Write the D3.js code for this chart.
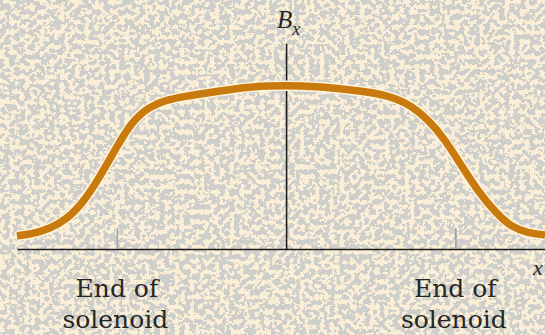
<!DOCTYPE html>
<html lang="en">
<head>
    <meta charset="UTF-8">
    <title>Field along the axis of a solenoid</title>
    <script src="https://d3js.org/d3.v7.min.js"></script>
    <style>
        body { margin: 0; background: #f5ead0; }
        .domain { stroke: #1c1c1c; stroke-width: 1.6px; }
        .tick line { stroke: #9ea4ac; stroke-width: 1.6px; }
        .label { font-family: "DejaVu Serif", serif; font-size: 25px; fill: #262626; text-anchor: middle; }
        .sym { font-family: "Liberation Serif", serif; font-style: italic; fill: #262626; }
    </style>
</head>
<body>
    <svg id="chart" width="545" height="335"></svg>

    <script>
        // positions along the axis (solenoid ends at -1 and +1) and field values (max = 1)
        const xPos = [-1.59, -1.50, -1.40, -1.30, -1.20, -1.10, -1.00, -0.91, -0.81, -0.71,
                      -0.61, -0.41, -0.22, 0.00, 0.18, 0.37, 0.55, 0.65, 0.74, 0.84,
                      0.94, 1.04, 1.14, 1.24, 1.33, 1.43, 1.53];
        const bVals = [0.080, 0.092, 0.123, 0.178, 0.282, 0.442, 0.626, 0.780, 0.870, 0.910,
                       0.932, 0.963, 0.994, 1.000, 0.994, 0.975, 0.951, 0.920, 0.877, 0.791,
                       0.669, 0.503, 0.344, 0.221, 0.135, 0.098, 0.086];
        const endTicks = [-1, 1];
        const endLabels = ["End of", "solenoid"];

        const W = 545, H = 335;
        const svg = d3.select("#chart");

        // speckled paper background
        const defs = svg.append("defs");
        const f = defs.append("filter").attr("id", "speck")
            .attr("x", 0).attr("y", 0).attr("width", "100%").attr("height", "100%");
        f.append("feTurbulence").attr("type", "fractalNoise")
            .attr("baseFrequency", 0.2).attr("numOctaves", 2).attr("seed", 11);
        f.append("feColorMatrix").attr("type", "matrix")
            .attr("values", "0 0 0 0 0.62  0 0 0 0 0.62  0 0 0 0 0.59  1.6 0 0 0 -0.3");
        f.append("feComponentTransfer").append("feFuncA")
            .attr("type", "discrete").attr("tableValues", "0 0 0 0 0 1 1 1 1 1");

        svg.append("rect").attr("width", W).attr("height", H).attr("fill", "#faefd6");
        svg.append("rect").attr("width", W).attr("height", H).attr("filter", "url(#speck)");

        const x = d3.scaleLinear().domain([-1.59, 1.53]).range([17, 545]);
        const y = d3.scaleLinear().domain([0, 1.26]).range([249, 43]);

        // horizontal axis with solenoid-end marks
        svg.append("g")
            .attr("transform", `translate(0,${y(0)})`)
            .call(d3.axisBottom(x).tickValues(endTicks).tickFormat("")
                .tickSizeInner(-21).tickSizeOuter(0));

        // vertical axis
        svg.append("g")
            .attr("transform", `translate(${x(0)},0)`)
            .call(d3.axisLeft(y).tickValues([]).tickSizeOuter(0));

        const line = d3.line()
            .x((d, i) => x(xPos[i]))
            .y(d => y(d))
            .curve(d3.curveBasis);

        // light halo under the curve
        svg.append("path").datum(bVals)
            .attr("d", line)
            .attr("fill", "none")
            .attr("stroke", "#fff4dc")
            .attr("stroke-width", 10.5);

        svg.append("path").datum(bVals)
            .attr("d", line)
            .attr("fill", "none")
            .attr("stroke", "#c87a0e")
            .attr("stroke-width", 7.5);

        // axis symbols
        const bx = svg.append("text").attr("class", "sym")
            .attr("x", x(0) - 9).attr("y", 28).attr("font-size", 25);
        bx.append("tspan").text("B");
        bx.append("tspan").attr("font-size", 18).attr("dy", 7).text("x");

        svg.append("text").attr("class", "sym")
            .attr("x", 533).attr("y", 275).attr("font-size", 22).text("x");

        // end labels
        endTicks.forEach(t => {
            endLabels.forEach((s, j) => {
                svg.append("text").attr("class", "label")
                    .attr("x", x(t) - j * 1.5)
                    .attr("y", 297 + j * 31)
                    .text(s);
            });
        });
    </script>
</body>
</html>
